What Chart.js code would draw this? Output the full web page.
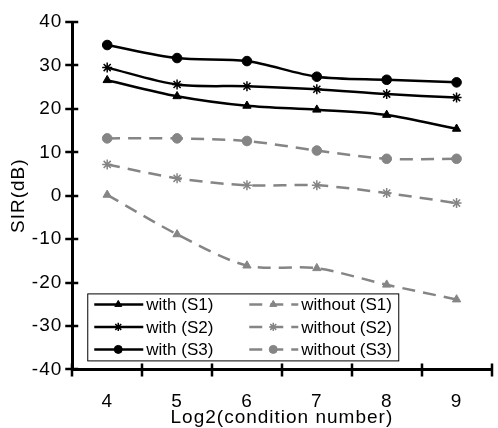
<!DOCTYPE html>
<html>
<head>
<meta charset="utf-8">
<script src="https://cdn.jsdelivr.net/npm/chart.js@4/dist/chart.umd.min.js"></script>
<style>
  html, body { margin: 0; padding: 0; background: #fff; }
  #wrap { width: 498px; height: 428px; }
</style>
</head>
<body>
<div id="wrap"><canvas id="sirChart" width="498" height="428"></canvas></div>
<script>
// Chart data
const conditionLabels = ['4', '5', '6', '7', '8', '9'];
const withS1 = [26.6, 22.9, 20.7, 19.8, 18.6, 15.4];
const withS2 = [29.5, 25.6, 25.2, 24.5, 23.4, 22.6];
const withS3 = [34.7, 31.7, 31.0, 27.4, 26.7, 26.1];
const withoutS1 = [0.2, -8.9, -16.1, -16.7, -20.5, -23.9];
const withoutS2 = [7.2, 4.0, 2.4, 2.4, 0.6, -1.7];
const withoutS3 = [13.2, 13.2, 12.6, 10.4, 8.5, 8.5];
const yTicks = [-40, -30, -20, -10, 0, 10, 20, 30, 40];

const FONT = "'Liberation Sans', Arial, sans-serif";
Chart.defaults.font.family = FONT;
Chart.defaults.color = '#000';

const GRAY = '#858585';

function series(label, data, color, style, dashed) {
    return {
        label: label,
        data: data,
        borderColor: color,
        backgroundColor: color,
        pointStyle: style,
        pointRadius: style === 'star' ? 5 : 4.8,
        pointBorderWidth: style === 'star' ? 1.5 : 1,
        borderWidth: 2.5,
        borderDash: dashed ? [13, 8] : [],
        tension: 0.3,
        fill: false
    };
}

// the reference text is set a little wide, so space the letters out
const wideText = {
    id: 'wideText',
    beforeUpdate(chart) { chart.ctx.letterSpacing = '1px'; },
    beforeDraw(chart) { chart.ctx.letterSpacing = '1px'; }
};

// axis ticks that cross the axis line, plus the boxed two-column legend
const axisAndLegend = {
    id: 'axisAndLegend',
    afterDraw(chart) {
        const ctx = chart.ctx;
        const area = chart.chartArea;
        const xs = chart.scales.x;
        const ys = chart.scales.y;
        ctx.save();
        ctx.strokeStyle = '#000';
        ctx.lineWidth = 2.5;
        ctx.beginPath();
        yTicks.forEach(v => {
            const py = Math.round(ys.getPixelForValue(v));
            ctx.moveTo(area.left - 7, py);
            ctx.lineTo(area.left + 6, py);
        });
        const half = (xs.getPixelForValue(1) - xs.getPixelForValue(0)) / 2;
        for (let i = 0; i <= conditionLabels.length; i++) {
            const px = Math.round(xs.getPixelForValue(i) - half);
            ctx.moveTo(px, area.bottom - 6);
            ctx.lineTo(px, area.bottom + 7);
        }
        ctx.stroke();

        // legend
        const bx = area.left + 15, by = area.bottom - 76, bw = 311, bh = 67;
        ctx.fillStyle = '#fff';
        ctx.fillRect(bx, by, bw, bh);
        ctx.lineWidth = 1;
        ctx.strokeStyle = '#000';
        ctx.strokeRect(bx + 0.5, by + 0.5, bw, bh);
        const cols = [[0, 1, 2], [3, 4, 5]];
        ctx.letterSpacing = '0px';
        ctx.font = '17px ' + FONT;
        ctx.textBaseline = 'middle';
        cols.forEach((idxs, c) => {
            const lx = bx + 7 + c * 155;
            idxs.forEach((di, r) => {
                const ds = chart.data.datasets[di];
                const ly = by + 11 + r * 22.5;
                ctx.strokeStyle = ds.borderColor;
                ctx.fillStyle = ds.borderColor;
                ctx.lineWidth = 2.5;
                ctx.setLineDash(ds.borderDash);
                ctx.beginPath();
                ctx.moveTo(lx, ly);
                ctx.lineTo(lx + 49, ly);
                ctx.stroke();
                ctx.setLineDash([]);
                ctx.lineWidth = ds.pointBorderWidth;
                Chart.helpers.drawPoint(ctx, {
                    pointStyle: ds.pointStyle,
                    radius: ds.pointRadius - 0.8,
                    borderWidth: ds.pointBorderWidth
                }, lx + 24, ly);
                ctx.fillStyle = '#000';
                ctx.fillText(ds.label, lx + 52, ly + 1);
            });
        });
        ctx.restore();
    }
};

new Chart(document.getElementById('sirChart'), {
    type: 'line',
    data: {
        labels: conditionLabels,
        datasets: [
            series('with (S1)', withS1, '#000', 'triangle', false),
            series('with (S2)', withS2, '#000', 'star', false),
            series('with (S3)', withS3, '#000', 'circle', false),
            series('without (S1)', withoutS1, GRAY, 'triangle', true),
            series('without (S2)', withoutS2, GRAY, 'star', true),
            series('without (S3)', withoutS3, GRAY, 'circle', true)
        ]
    },
    options: {
        responsive: false,
        animation: false,
        layout: { padding: { top: 22, right: 1, left: 0, bottom: 0 } },
        plugins: {
            legend: { display: false },
            tooltip: { enabled: false }
        },
        scales: {
            x: {
                offset: true,
                grid: { display: false, offset: true, tickLength: 8 },
                border: { display: true, color: '#000', width: 3 },
                ticks: { font: { size: 19 }, padding: 13, maxRotation: 0 },
                title: {
                    display: true,
                    text: 'Log2(condition number)',
                    font: { size: 19 },
                    padding: { top: -20, bottom: -1 }
                }
            },
            y: {
                min: -40,
                max: 40,
                afterBuildTicks: (axis) => {
                    axis.ticks = yTicks.map(v => ({ value: v }));
                },
                grid: { display: false, tickLength: 8 },
                border: { display: true, color: '#000', width: 3 },
                ticks: { font: { size: 19 }, padding: 2 },
                title: {
                    display: true,
                    text: 'SIR(dB)',
                    font: { size: 19 },
                    padding: { top: 7, bottom: 0 }
                }
            }
        }
    },
    plugins: [wideText, axisAndLegend]
});
</script>
</body>
</html>
